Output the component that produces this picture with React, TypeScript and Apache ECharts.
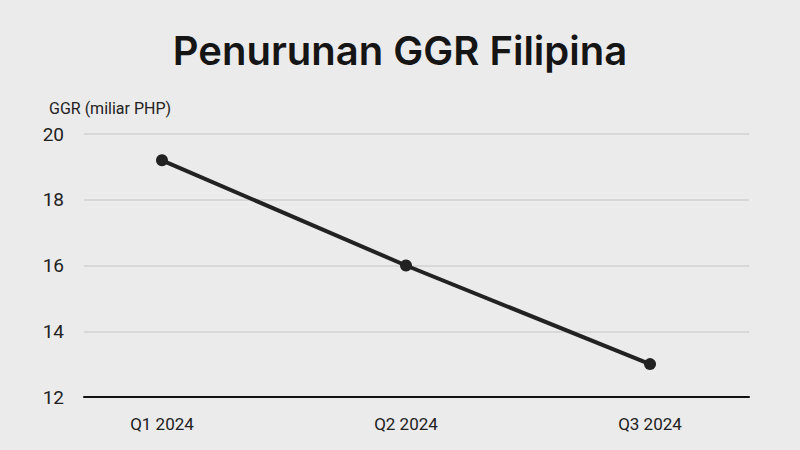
import React, { useEffect, useRef } from "react";
import * as echarts from "echarts";

const categories = ["Q1 2024", "Q2 2024", "Q3 2024"];
const ggrValues = [19.2, 16.0, 13.0];
const yMin = 12;
const yMax = 20;
const yStep = 2;
const titleText = "Penurunan GGR Filipina";
const axisName = "GGR (miliar PHP)";

export default function App() {
  const ref = useRef<HTMLDivElement>(null);
  useEffect(() => {
    document.body.style.margin = "0";
    const chart = echarts.init(ref.current!, null, { renderer: "svg" });
    chart.setOption({
      animation: false,
      backgroundColor: "#ebebeb",
      title: [
        {
          text: titleText,
          left: "center",
          top: 25,
          textStyle: { fontFamily: "Inter", fontSize: 40, fontWeight: 600, color: "#151515" },
        },
        {
          text: axisName,
          left: 44,
          top: 95,
          textStyle: { fontFamily: "Roboto", fontSize: 16, fontWeight: "normal", color: "#222" },
        },
      ],
      grid: [
        { left: 162, right: 150, top: 134, bottom: 53 },
        { left: 84, right: 51, top: 134, bottom: 53 },
      ],
      xAxis: [
        {
          type: "category",
          gridIndex: 0,
          data: categories,
          boundaryGap: false,
          axisLine: { show: false },
          axisTick: { show: false },
          axisLabel: { fontFamily: "Roboto", fontSize: 17, color: "#222", margin: 18 },
        },
        {
          type: "category",
          gridIndex: 1,
          data: categories,
          axisLine: { show: true, lineStyle: { color: "#111", width: 2 } },
          axisTick: { show: false },
          axisLabel: { show: false },
        },
      ],
      yAxis: [
        {
          type: "value",
          gridIndex: 0,
          min: yMin,
          max: yMax,
          interval: yStep,
          axisLine: { show: false },
          axisTick: { show: false },
          axisLabel: { show: false },
          splitLine: { show: false },
        },
        {
          type: "value",
          gridIndex: 1,
          min: yMin,
          max: yMax,
          interval: yStep,
          axisLine: { show: false },
          axisTick: { show: false },
          axisLabel: { fontFamily: "Roboto", fontSize: 19, color: "#222", margin: 20 },
          splitLine: { show: true, lineStyle: { color: "#d2d2d2", width: 1.5 } },
        },
      ],
      series: [
        {
          type: "line",
          xAxisIndex: 0,
          yAxisIndex: 0,
          data: ggrValues,
          symbol: "circle",
          symbolSize: 12,
          lineStyle: { color: "#222", width: 4 },
          itemStyle: { color: "#222" },
          z: 5,
        },
      ],
    });
    return () => chart.dispose();
  }, []);
  return <div ref={ref} style={{ width: 800, height: 450 }} />;
}
